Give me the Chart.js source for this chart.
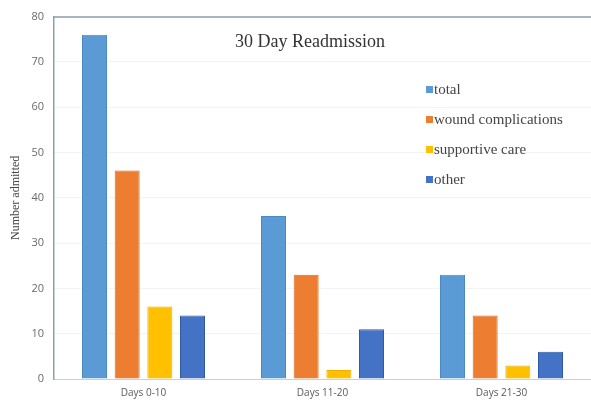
<!DOCTYPE html>
<html>
<head>
<meta charset="utf-8">
<script src="https://cdn.jsdelivr.net/npm/chart.js@4/dist/chart.umd.min.js"></script>
<style>
  html, body { margin: 0; padding: 0; background: #fff; }
  #wrap { width: 591px; height: 400px; }
</style>
</head>
<body>
<div id="wrap"><canvas id="myChart" width="591" height="400"></canvas></div>
<script>
/* ---------- DATA ---------- */
const categories = ['Days 0-10', 'Days 11-20', 'Days 21-30'];
const total = [76, 36, 23];
const wound = [46, 23, 14];
const supportive = [16, 2, 3];
const other = [14, 11, 6];
const yTicks = [0, 10, 20, 30, 40, 50, 60, 70, 80];

const seriesNames = ['total', 'wound complications', 'supportive care', 'other'];
const fills = ['#5b9bd5', '#ed7d31', '#ffc000', '#4472c4'];
const edges = ['#4a89c4', '#d96c22', '#eeb000', '#2f5aa8'];

/* ---------- TITLE + LEGEND + FRAME ---------- */
const decor = {
    id: 'decor',
    afterDraw(chart) {
        const ctx = chart.ctx;
        const a = chart.chartArea;
        ctx.save();

        // frame line along the top
        ctx.strokeStyle = '#8b9fad';
        ctx.lineWidth = 1.5;
        ctx.beginPath();
        ctx.moveTo(a.left, a.top + 0.5);
        ctx.lineTo(a.right, a.top + 0.5);
        ctx.stroke();

        // title
        ctx.fillStyle = '#333';
        ctx.font = '18px "Liberation Serif"';
        ctx.textBaseline = 'middle';
        ctx.textAlign = 'left';
        ctx.fillText('30 Day Readmission', 235, 42);

        // legend
        ctx.font = '15px "Liberation Serif"';
        const ys = [90, 120, 150, 180];
        chart.data.datasets.forEach((ds, i) => {
            ctx.fillStyle = ds.backgroundColor;
            ctx.fillRect(426, ys[i] - 4, 7, 7);
            ctx.fillStyle = '#444';
            ctx.fillText(ds.label, 434, ys[i]);
        });
        ctx.restore();
    }
};

const ctx = document.getElementById('myChart').getContext('2d');
const seriesData = [total, wound, supportive, other];

new Chart(ctx, {
    type: 'bar',
    data: {
        labels: categories,
        datasets: seriesNames.map((name, i) => ({
            label: name,
            data: seriesData[i],
            backgroundColor: fills[i],
            borderColor: edges[i],
            borderWidth: 1,
            categoryPercentage: 0.73,
            barPercentage: 0.765
        }))
    },
    options: {
        responsive: false,
        animation: false,
        layout: { padding: { top: 14, right: 0, left: 0, bottom: 0 } },
        plugins: {
            legend: { display: false },
            tooltip: { enabled: false }
        },
        scales: {
            x: {
                grid: { display: false, drawTicks: false },
                border: { color: '#cfcfcf', width: 1 },
                ticks: { color: '#595959', font: { family: 'Open Sans', size: 10 }, padding: 8 },
                afterFit: s => { s.height = 21; }
            },
            y: {
                min: 0,
                max: 80,
                afterBuildTicks: s => { s.ticks = yTicks.map(v => ({ value: v })); },
                grid: { color: '#f3f3f3', drawTicks: false },
                border: { color: '#8b9fad', width: 1.5 },
                ticks: { color: '#6a6a6a', font: { family: 'Open Sans', size: 11 }, padding: 10 },
                title: {
                    display: true,
                    text: 'Number admitted',
                    color: '#444',
                    font: { family: 'Liberation Serif', size: 12 },
                    padding: { top: 9, bottom: 0 }
                },
                afterFit: s => { s.width = 54; }
            }
        }
    },
    plugins: [decor]
});
</script>
</body>
</html>
